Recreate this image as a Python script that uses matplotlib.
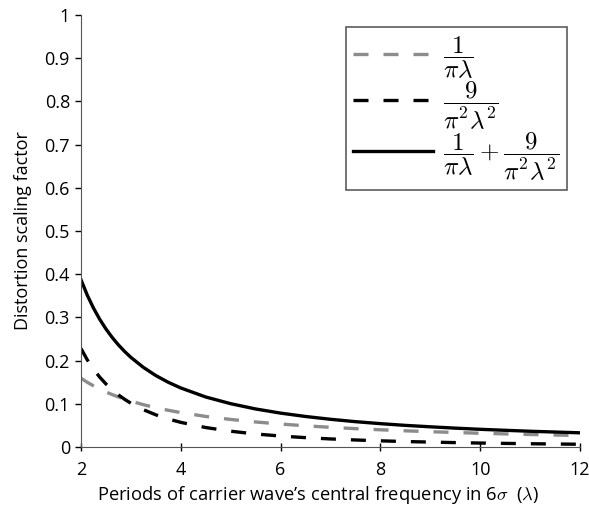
import matplotlib
matplotlib.use("Agg")
import matplotlib.pyplot as plt

lam = [2, 2.125, 2.25, 2.375, 2.5, 2.625, 2.75, 2.875, 3, 3.25, 3.5, 3.75, 4, 4.5, 5, 5.5, 6, 6.5, 7, 7.5,
       8, 8.5, 9, 9.5, 10, 10.5, 11, 11.5, 12]
inv_pi = [0.1592, 0.1498, 0.1415, 0.1340, 0.1273, 0.1213, 0.1157, 0.1107, 0.1061, 0.0979, 0.0909, 0.0849,
          0.0796, 0.0707, 0.0637, 0.0579, 0.0531, 0.0490, 0.0455, 0.0424, 0.0398, 0.0374, 0.0354, 0.0335,
          0.0318, 0.0303, 0.0289, 0.0277, 0.0265]
nine_sq = [0.2280, 0.2019, 0.1801, 0.1617, 0.1459, 0.1323, 0.1206, 0.1103, 0.1013, 0.0863, 0.0744, 0.0648,
           0.0570, 0.0450, 0.0365, 0.0301, 0.0253, 0.0216, 0.0186, 0.0162, 0.0142, 0.0126, 0.0113, 0.0101,
           0.0091, 0.0083, 0.0075, 0.0069, 0.0063]
total = [0.3872, 0.3517, 0.3216, 0.2957, 0.2732, 0.2536, 0.2363, 0.2210, 0.2074, 0.1843, 0.1653, 0.1497,
         0.1366, 0.1157, 0.1002, 0.0880, 0.0784, 0.0706, 0.0641, 0.0586, 0.0540, 0.0500, 0.0467, 0.0436,
         0.0409, 0.0386, 0.0364, 0.0346, 0.0328]

xticks = [2, 4, 6, 8, 10, 12]
yticks = [0, 0.1, 0.2, 0.3, 0.4, 0.5, 0.6, 0.7, 0.8, 0.9, 1]
ytick_labels = ["0", "0.1", "0.2", "0.3", "0.4", "0.5", "0.6", "0.7", "0.8", "0.9", "1"]

plt.rcParams['font.family'] = ['Open Sans', 'DejaVu Sans']
plt.rcParams['mathtext.fontset'] = 'cm'

fig = plt.figure(figsize=(5.89, 5.05), dpi=100)
ax = fig.add_axes([0.1375, 0.1149, 0.8472, 0.8554])

ax.plot(lam, inv_pi, color='#8c8c8c', lw=2.4, linestyle=(0, (4.5, 4.5)), label=r'$\dfrac{1}{\pi\lambda}$')
ax.plot(lam, nine_sq, color='black', lw=2.4, linestyle=(0, (4.5, 4.5)), label=r'$\dfrac{9}{\pi^2\lambda^2}$')
ax.plot(lam, total, color='black', lw=2.4, label=r'$\dfrac{1}{\pi\lambda}+\dfrac{9}{\pi^2\lambda^2}$')

ax.set_xlim(2, 12)
ax.set_ylim(0, 1)
ax.set_xticks(xticks)
ax.set_xticklabels([str(t) for t in xticks])
ax.set_yticks(yticks)
ax.set_yticklabels(ytick_labels)
ax.tick_params(axis='y', labelsize=13, length=4, width=1, direction='out', pad=4)
ax.tick_params(axis='x', labelsize=13, length=6, width=1, direction='inout', pad=7)
ax.spines['top'].set_visible(False)
ax.spines['right'].set_visible(False)
ax.spines['left'].set_color('#555555')
ax.spines['bottom'].set_color('#555555')

ax.set_xlabel(r'Periods of carrier wave’s central frequency in 6$\sigma$  ($\lambda$)', fontsize=13.2, labelpad=5)
ax.xaxis.set_label_coords(0.475, -0.085)
ax.set_ylabel('Distortion scaling factor', fontsize=13, labelpad=9)

leg = ax.legend(loc='upper right', bbox_to_anchor=(567 / 589, 1 - 27 / 505), bbox_transform=fig.transFigure,
                fontsize=18, frameon=True, fancybox=False, edgecolor='#333333',
                handlelength=3.2, handletextpad=0.4, labelspacing=-0.05, borderpad=0.3, borderaxespad=0)
leg.get_frame().set_linewidth(1.2)

fig.savefig('out.png', dpi=100)
